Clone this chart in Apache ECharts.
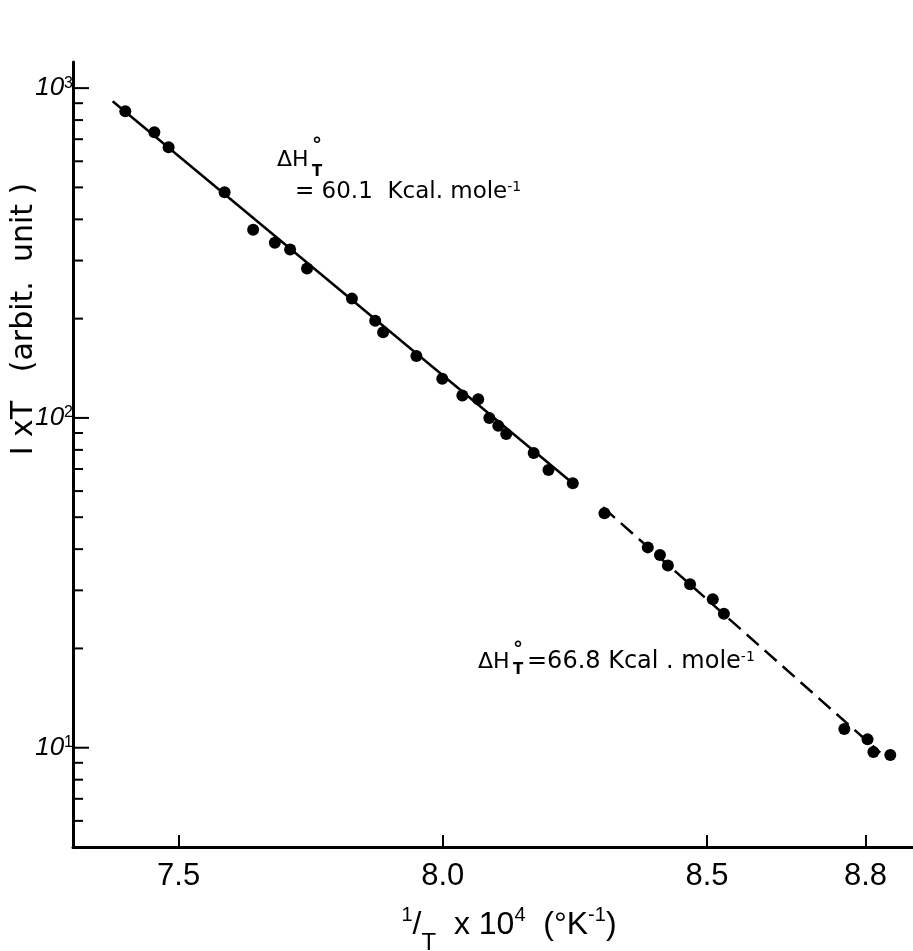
<!DOCTYPE html>
<html>
<head>
<meta charset="utf-8">
<script src="https://cdn.jsdelivr.net/npm/echarts@6/dist/echarts.min.js"></script>
<style>
html, body { margin: 0; padding: 0; background: #fff; }
#main { width: 913px; height: 951px; }
</style>
</head>
<body>
<div id="main"></div>
<script>
// measured points, 1/T x 10^4 against I x T
var solidX = [7.399, 7.454, 7.481, 7.587, 7.641, 7.682, 7.711, 7.743, 7.828, 7.872, 7.887,
              7.950, 7.999, 8.037, 8.067, 8.088, 8.105, 8.120, 8.172, 8.200, 8.246];
var solidY = [851, 735, 662, 483, 372, 340, 324, 284, 230, 197, 182,
              154, 131.5, 117, 114, 100, 94.6, 89.4, 78.3, 69.5, 63.4];
var dashX = [8.306, 8.388, 8.411, 8.426, 8.468, 8.511, 8.532, 8.760, 8.804, 8.815, 8.847];
var dashY = [51.4, 40.5, 38.4, 35.7, 31.3, 28.2, 25.5, 11.4, 10.6, 9.7, 9.5];

// fitted straight lines, end points
var fitSolidX = [7.375, 8.246];
var fitSolidY = [912, 63.4];
var fitDashX = [8.303, 8.828];
var fitDashY = [53.6, 9.66];

// ticks
var xTicks = [7.5, 8.0, 8.5, 8.8];
var yMajorTicks = [10, 100, 1000];
var yMinorTicks = [6, 7, 8, 9, 20, 30, 40, 50, 60, 70, 80, 90,
                   200, 300, 400, 500, 600, 700, 800, 900];

var X_MIN = 7.3, X_MAX = 8.89, Y_MIN = 5, Y_MAX = 1200;

var zip = function (xs, ys) {
	var out = [];
	for (var i = 0; i < xs.length; i++) out.push([xs[i], ys[i]]);
	return out;
};

var tickData = [];
for (var i = 0; i < yMajorTicks.length; i++) tickData.push([X_MIN, yMajorTicks[i], 1]);
for (var j = 0; j < yMinorTicks.length; j++) tickData.push([X_MIN, yMinorTicks[j], 0]);

var FONT = 'Liberation Sans';
var ANNO = 'DejaVu Sans';

var chart = echarts.init(document.getElementById('main'));
var option = {
	animation: false,
	backgroundColor: '#fff',
	grid: { left: 73, right: 0, top: 62, bottom: 104, outerBoundsMode: 'none', containLabel: false },
	xAxis: {
		type: 'value',
		min: X_MIN,
		max: X_MAX,
		splitLine: { show: false },
		axisLine: { onZero: false, lineStyle: { color: '#000', width: 3 } },
		axisTick: {
			inside: true,
			length: 12,
			customValues: xTicks,
			lineStyle: { color: '#000', width: 2 }
		},
		axisLabel: {
			customValues: xTicks,
			margin: 14,
			color: '#000',
			fontFamily: FONT,
			fontSize: 31,
			formatter: function (v) { return v.toFixed(1); }
		},
		name: '{s|1}{n|/}{t|T}{n|  x 10}{s|4}{n|  (°K}{s|-1}{n|)}',
		nameLocation: 'middle',
		nameGap: 58,
		nameTextStyle: {
			padding: [0, 0, 0, 32],
			rich: {
				n: { fontFamily: FONT, fontSize: 32, color: '#000', lineHeight: 40 },
				s: { fontFamily: FONT, fontSize: 20, color: '#000', verticalAlign: 'top' },
				t: { fontFamily: FONT, fontSize: 24, color: '#000', verticalAlign: 'bottom', padding: [0, 0, -10, 0] }
			}
		}
	},
	yAxis: {
		type: 'log',
		logBase: 10,
		min: Y_MIN,
		max: Y_MAX,
		splitLine: { show: false },
		axisLine: { onZero: false, lineStyle: { color: '#000', width: 3 } },
		axisTick: { show: false },
		axisLabel: {
			margin: 0,
			showMinLabel: false,
			showMaxLabel: false,
			formatter: function (v) {
				var l = Math.log10(v), e = Math.round(l);
				if (Math.abs(l - e) > 1e-6) return '';
				return '{b|10}{e|' + e + '}';
			},
			rich: {
				b: { fontFamily: FONT, fontSize: 26, fontStyle: 'italic', color: '#000' },
				e: { fontFamily: FONT, fontSize: 16, color: '#000', verticalAlign: 'top' }
			}
		}
	},
	graphic: [
		{
			type: 'text', x: 24, y: 319, rotation: Math.PI / 2,
			style: {
				text: 'I xT   (arbit.  unit )', font: '30px "DejaVu Sans"', fill: '#000',
				textAlign: 'center', textVerticalAlign: 'middle', align: 'center', verticalAlign: 'middle'
			}
		},
		// upper annotation
		{ type: 'text', x: 277, y: 160, style: { text: 'ΔH', font: '22px "DejaVu Sans"', fill: '#000', textVerticalAlign: 'middle', verticalAlign: 'middle' } },
		{ type: 'text', x: 312, y: 146, style: { text: '°', font: 'bold 20px "DejaVu Sans"', fill: '#000', textVerticalAlign: 'middle', verticalAlign: 'middle' } },
		{ type: 'text', x: 312, y: 172, style: { text: 'T', font: 'bold 15px "DejaVu Sans"', fill: '#000', textVerticalAlign: 'middle', verticalAlign: 'middle' } },
		{
			type: 'text', x: 295, y: 192,
			style: {
				text: '{n|= 60.1  Kcal. mole}{s|-1}', fill: '#000', textVerticalAlign: 'middle', verticalAlign: 'middle',
				rich: {
					n: { fontFamily: ANNO, fontSize: 23, fill: '#000' },
					s: { fontFamily: ANNO, fontSize: 14, fill: '#000', verticalAlign: 'top' }
				}
			}
		},
		// lower annotation
		{ type: 'text', x: 478, y: 662, style: { text: 'ΔH', font: '22px "DejaVu Sans"', fill: '#000', textVerticalAlign: 'middle', verticalAlign: 'middle' } },
		{ type: 'text', x: 513, y: 650, style: { text: '°', font: 'bold 20px "DejaVu Sans"', fill: '#000', textVerticalAlign: 'middle', verticalAlign: 'middle' } },
		{ type: 'text', x: 513, y: 670, style: { text: 'T', font: 'bold 15px "DejaVu Sans"', fill: '#000', textVerticalAlign: 'middle', verticalAlign: 'middle' } },
		{
			type: 'text', x: 527, y: 662,
			style: {
				text: '{n|=66.8 Kcal . mole}{s|-1}', fill: '#000', textVerticalAlign: 'middle', verticalAlign: 'middle',
				rich: {
					n: { fontFamily: ANNO, fontSize: 24, fill: '#000' },
					s: { fontFamily: ANNO, fontSize: 14, fill: '#000', verticalAlign: 'top' }
				}
			}
		}
	],
	series: [
		{
			name: 'fit 60.1',
			type: 'line',
			data: zip(fitSolidX, fitSolidY),
			showSymbol: false,
			lineStyle: { color: '#000', width: 2.5 },
			silent: true
		},
		{
			name: 'fit 66.8',
			type: 'line',
			data: zip(fitDashX, fitDashY),
			showSymbol: false,
			lineStyle: { color: '#000', width: 2.5, type: [16, 8] },
			silent: true
		},
		{
			name: 'run 1',
			type: 'scatter',
			data: zip(solidX, solidY),
			symbolSize: 12,
			itemStyle: { color: '#000', opacity: 1 }
		},
		{
			name: 'run 2',
			type: 'scatter',
			data: zip(dashX, dashY),
			symbolSize: 12,
			itemStyle: { color: '#000', opacity: 1 }
		},
		{
			// log-axis tick marks, decades and 2..9
			name: 'yticks',
			type: 'custom',
			data: tickData,
			silent: true,
			clip: false,
			z: 5,
			renderItem: function (params, api) {
				var p = api.coord([api.value(0), api.value(1)]);
				var len = api.value(2) ? 16 : 10;
				return {
					type: 'line',
					shape: { x1: p[0], y1: p[1], x2: p[0] + len, y2: p[1] },
					style: { stroke: '#000', lineWidth: 2 }
				};
			}
		}
	]
};
chart.setOption(option);
</script>
</body>
</html>
